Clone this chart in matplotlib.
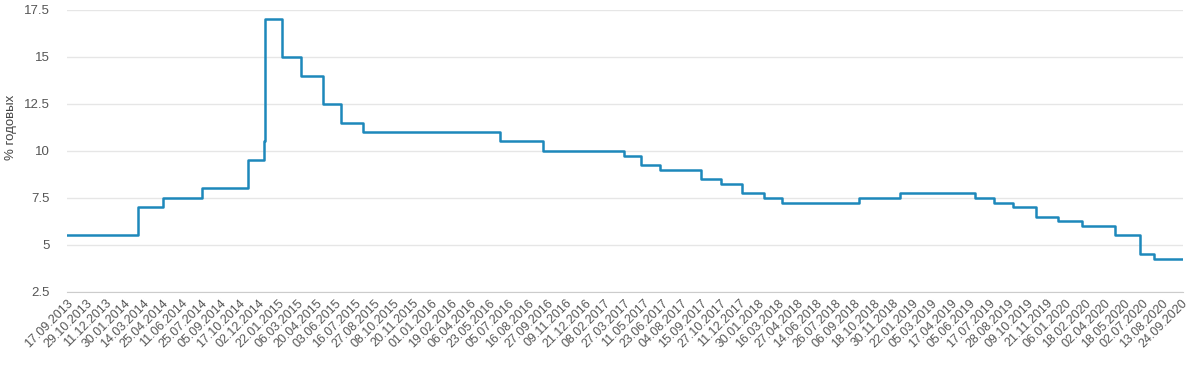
import numpy as np
import matplotlib.pyplot as plt
from matplotlib.ticker import FuncFormatter

plt.rcParams['font.family'] = ['Liberation Sans', 'DejaVu Sans']

# Ключевая ставка: дата вступления в силу и значение, % годовых
change_dates = ['2013-09-17', '2014-03-03', '2014-04-28', '2014-07-28', '2014-11-05',
                '2014-12-12', '2014-12-16', '2015-02-02', '2015-03-16', '2015-05-05',
                '2015-06-16', '2015-08-03', '2016-06-14', '2016-09-19', '2017-03-27',
                '2017-05-02', '2017-06-19', '2017-09-18', '2017-10-30', '2017-12-18',
                '2018-02-12', '2018-03-26', '2018-09-17', '2018-12-17', '2019-06-17',
                '2019-07-29', '2019-09-09', '2019-10-28', '2019-12-16', '2020-02-10',
                '2020-04-27', '2020-06-22', '2020-07-27']
rates = [5.5, 7.0, 7.5, 8.0, 9.5, 10.5, 17.0, 15.0, 14.0, 12.5, 11.5, 11.0, 10.5, 10.0,
         9.75, 9.25, 9.0, 8.5, 8.25, 7.75, 7.5, 7.25, 7.5, 7.75, 7.5, 7.25, 7.0, 6.5,
         6.25, 6.0, 5.5, 4.5, 4.25]
end_date = '2020-09-29'

# Подписи оси X (каждые 30 торговых дней)
tick_labels = ['17.09.2013', '29.10.2013', '11.12.2013', '30.01.2014', '14.03.2014',
               '25.04.2014', '11.06.2014', '25.07.2014', '05.09.2014', '17.10.2014',
               '02.12.2014', '22.01.2015', '06.03.2015', '20.04.2015', '03.06.2015',
               '16.07.2015', '27.08.2015', '08.10.2015', '20.11.2015', '01.01.2016',
               '19.02.2016', '06.04.2016', '23.05.2016', '05.07.2016', '16.08.2016',
               '27.09.2016', '09.11.2016', '21.12.2016', '08.02.2017', '27.03.2017',
               '11.05.2017', '23.06.2017', '04.08.2017', '15.09.2017', '27.10.2017',
               '11.12.2017', '30.01.2018', '16.03.2018', '27.04.2018', '14.06.2018',
               '26.07.2018', '06.09.2018', '18.10.2018', '30.11.2018', '22.01.2019',
               '05.03.2019', '17.04.2019', '05.06.2019', '17.07.2019', '28.08.2019',
               '09.10.2019', '21.11.2019', '06.01.2020', '18.02.2020', '02.04.2020',
               '18.05.2020', '02.07.2020', '13.08.2020', '24.09.2020']
tick_step = 30

tick_iso = np.array(['%s-%s-%s' % (s[6:], s[3:5], s[:2]) for s in tick_labels],
                    dtype='datetime64[D]')
tick_pos = np.arange(len(tick_labels)) * tick_step


def date_to_pos(d):
    # позиция на оси торговых дней относительно ближайшей подписи слева
    d = np.datetime64(d, 'D')
    i = max(np.searchsorted(tick_iso, d, side='right') - 1, 0)
    return tick_pos[i] + np.busday_count(tick_iso[i], d)


x = [date_to_pos(d) for d in change_dates] + [date_to_pos(end_date)]
y = rates + [rates[-1]]

fig = plt.figure(figsize=(12, 3.68), dpi=100)
ax = fig.add_axes([0.0555, 0.207, 0.9305, 0.766])

ax.step(x, y, where='post', color='#1d88bb', lw=1.8)

ax.set_xlim(x[0], x[-1])
ax.set_ylim(2.5, 17.5)
ax.set_yticks([2.5, 5, 7.5, 10, 12.5, 15, 17.5])
ax.yaxis.set_major_formatter(FuncFormatter(lambda v, p: '%g' % v))
ax.set_xticks(tick_pos)
ax.set_xticklabels(tick_labels, rotation=45, ha='right', va='top',
                   rotation_mode='anchor')

ax.grid(axis='y', color='#e6e6e6', lw=1)
ax.set_axisbelow(True)
for side in ['top', 'right', 'left']:
    ax.spines[side].set_visible(False)
ax.spines['bottom'].set_color('#cccccc')
ax.tick_params(axis='x', length=0, pad=4, labelsize=9, labelcolor='#555555')
ax.tick_params(axis='y', length=0, pad=12, labelsize=9.5, labelcolor='#555555')

fig.text(0.009, 0.655, '% годовых', rotation=90, ha='center', va='center',
         fontsize=9.5, color='#444444')

plt.savefig('out.png', dpi=100)
